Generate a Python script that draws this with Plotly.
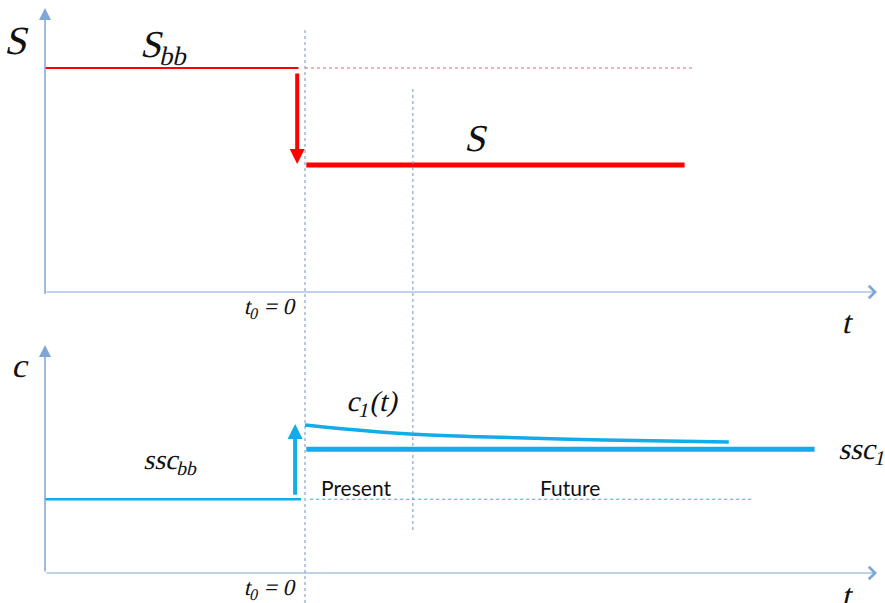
import plotly.graph_objects as go

# ---- data (conceptual units: time t, levels S and c) ----
t_axis_start = -10.0
t_axis_end = 22.0
t_present_end = 4.15

# top panel: S
S_bb = 10.0
S_new = 5.67
t_Sbb = [-10.0, -0.25]
t_Sbb_ref = [0.0, 14.9]
t_S = [0.05, 14.6]
S_arrow_t = -0.3
S_axis_top = 12.68

# bottom panel: c
ssc_bb = 2.95
ssc_1 = 4.95
t_sscbb = [-10.0, -0.15]
t_sscbb_ref = [0.2, 17.2]
t_ssc1 = [0.05, 19.6]
c1_t = [0.0, 1.3, 4.2, 6.7, 9.8, 13.3, 16.3]
c1_vals = [5.92, 5.78, 5.55, 5.45, 5.36, 5.29, 5.24]
c_arrow_t = -0.38
c_axis_top = 9.12

RED = "#ff0000"
BLUE = "#12ace8"
AXC = "#7ea6d8"
GUIDE = "#6e94c2"
SERIF = "Liberation Serif"
SANS = "Lato"

fig = go.Figure()

# top panel traces
fig.add_trace(go.Scatter(x=t_Sbb, y=[S_bb, S_bb], mode="lines",
                         line=dict(color=RED, width=2), xaxis="x", yaxis="y"))
fig.add_trace(go.Scatter(x=t_Sbb_ref, y=[S_bb, S_bb], mode="lines",
                         line=dict(color="#e46a6a", width=1, dash="3px,3px"), xaxis="x", yaxis="y"))
fig.add_trace(go.Scatter(x=t_S, y=[S_new, S_new], mode="lines",
                         line=dict(color=RED, width=5), xaxis="x", yaxis="y"))

# bottom panel traces
fig.add_trace(go.Scatter(x=t_sscbb, y=[ssc_bb, ssc_bb], mode="lines",
                         line=dict(color=BLUE, width=2.5), xaxis="x", yaxis="y2"))
fig.add_trace(go.Scatter(x=t_sscbb_ref, y=[ssc_bb, ssc_bb], mode="lines",
                         line=dict(color="#3aa6d6", width=1, dash="3px,3px"), xaxis="x", yaxis="y2"))
fig.add_trace(go.Scatter(x=t_ssc1, y=[ssc_1, ssc_1], mode="lines",
                         line=dict(color=BLUE, width=5), xaxis="x", yaxis="y2"))
fig.add_trace(go.Scatter(x=c1_t, y=c1_vals, mode="lines", line_shape="spline",
                         line=dict(color=BLUE, width=3.5), xaxis="x", yaxis="y2"))

ann = []
# axis arrows
for yref, top in (("y", S_axis_top), ("y2", c_axis_top)):
    ann.append(dict(x=t_axis_start, y=top, ax=t_axis_start, ay=-0.15 if yref == "y" else 0,
                    xref="x", yref=yref, axref="x", ayref=yref, showarrow=True,
                    arrowhead=2, arrowsize=1.6, arrowwidth=1.5, arrowcolor=AXC, text=""))
    ann.append(dict(x=t_axis_end, y=0, ax=t_axis_start, ay=0,
                    xref="x", yref=yref, axref="x", ayref=yref, showarrow=True,
                    arrowhead=4, arrowsize=2.2, arrowwidth=1.1, arrowcolor=AXC, text=""))

# jump arrows
ann.append(dict(x=S_arrow_t, y=S_new + 0.05, ax=S_arrow_t, ay=S_bb - 0.18,
                xref="x", yref="y", axref="x", ayref="y", showarrow=True,
                arrowhead=2, arrowsize=0.75, arrowwidth=4, arrowcolor=RED, text=""))
ann.append(dict(x=c_arrow_t, y=c1_vals[0] + 0.04, ax=c_arrow_t, ay=ssc_bb + 0.12,
                xref="x", yref="y2", axref="x", ayref="y2", showarrow=True,
                arrowhead=2, arrowsize=0.75, arrowwidth=4, arrowcolor=BLUE, text=""))


def lab(text, x, y, yref, size, xanchor="center", family=SERIF):
    ann.append(dict(text=text, x=x, y=y, xref="x", yref=yref, showarrow=False,
                    xanchor=xanchor, yanchor="middle",
                    font=dict(family=family, size=size, color="#111111")))


lab("S", -11.04, 11.25, "y", 40)
lab("S<sub>bb</sub>", -5.35, 10.95, "y", 38)
lab("S", 6.65, 6.88, "y", 38)
lab("t", 20.9, -1.34, "y", 32)
lab("t<sub>0</sub> = 0", -0.3, -0.72, "y", 23, xanchor="right")

lab("c", -10.9, 8.3, "y2", 34)
lab("c<sub>1</sub>(t)", 2.6, 6.8, "y2", 29)
lab("ssc<sub>bb</sub>", -5.1, 4.45, "y2", 28)
lab("ssc<sub>1</sub>", 20.5, 4.9, "y2", 30, xanchor="left")
lab("Present", 1.96, 3.42, "y2", 21, family=SANS)
lab("Future", 10.2, 3.42, "y2", 21, family=SANS)
lab("t", 20.9, -0.86, "y2", 32)
lab("t<sub>0</sub> = 0", -0.3, -0.62, "y2", 23, xanchor="right")

shapes = [
    dict(type="line", xref="x", yref="paper", x0=0, x1=0, y0=0.0, y1=0.95,
         line=dict(color=GUIDE, width=1, dash="3px,3px")),
    dict(type="line", xref="x", yref="paper", x0=t_present_end, x1=t_present_end,
         y0=0.121, y1=0.856, line=dict(color=GUIDE, width=1, dash="3px,3px")),
]

fig.update_layout(
    width=885, height=603,
    margin=dict(l=0, r=0, t=0, b=0),
    paper_bgcolor="white", plot_bgcolor="white",
    showlegend=False, hovermode=False,
    xaxis=dict(range=[-11.731, 22.308], visible=False, fixedrange=True),
    yaxis=dict(domain=[0.4527, 1.0], range=[-1.696, 13.036], visible=False, fixedrange=True),
    yaxis2=dict(domain=[0.0, 0.4527], range=[-1.2, 9.72], visible=False, fixedrange=True),
    annotations=ann,
    shapes=shapes,
)

# the serif fonts have no italic face here, so slant the math labels with a skew
post = """
document.body.style.margin='0';
document.body.style.overflow='hidden';
var gd = document.getElementById('{plot_id}');
function sk(){
  gd.querySelectorAll('g.annotation text').forEach(function(t){
    var f = t.style.fontFamily || '';
    if (f.indexOf('Liberation Serif') >= 0) {
      t.style.transformBox = 'fill-box';
      t.style.transformOrigin = '50% 50%';
      t.style.transform = 'skewX(-13deg)';
    }
  });
}
sk(); setTimeout(sk, 30); setTimeout(sk, 300);
if (gd.on) { gd.on('plotly_afterplot', sk); }
"""

fig.write_html("out.html", config={"displayModeBar": False}, post_script=post)
